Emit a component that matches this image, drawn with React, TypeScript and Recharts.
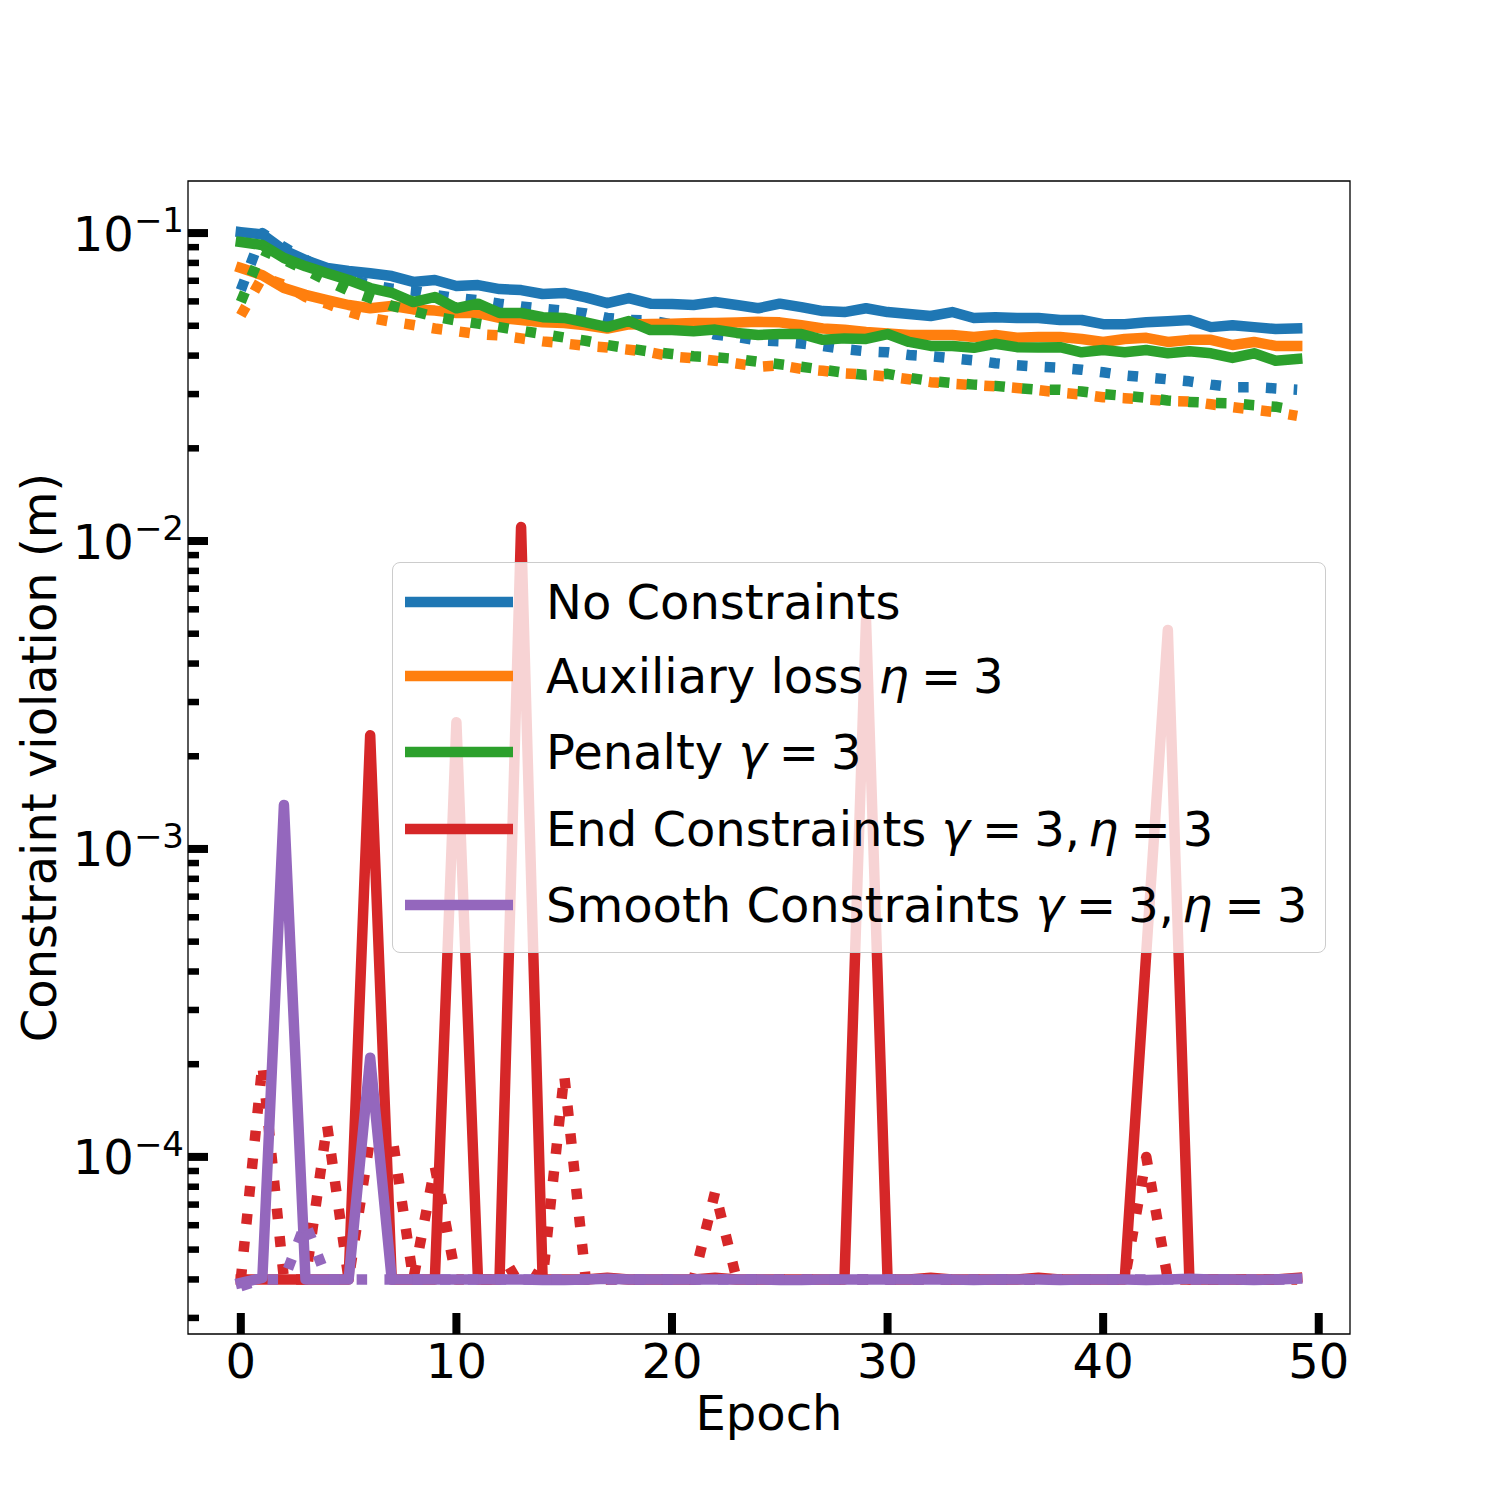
import { LineChart, Line, XAxis, YAxis, Legend, ReferenceArea } from "recharts";

// values (log scale, metres)
const NO_CONSTRAINTS_TRAIN = [
  0.1007, 0.099, 0.088, 0.0817, 0.077, 0.0753, 0.074, 0.0725, 0.0694, 0.0704,
  0.0673, 0.0678, 0.0658, 0.0653, 0.0634, 0.0639, 0.0618, 0.0592, 0.0615, 0.059,
  0.0588, 0.0584, 0.0597, 0.0584, 0.057, 0.059, 0.0575, 0.0558, 0.0554, 0.057,
  0.0554, 0.0546, 0.0538, 0.0554, 0.053, 0.0533, 0.053, 0.053, 0.0522, 0.0522,
  0.0506, 0.0506, 0.0513, 0.0517, 0.0522, 0.0495, 0.0502, 0.0495, 0.0488, 0.049,
];
const NO_CONSTRAINTS_VAL = [
  0.0653, 0.1, 0.09, 0.082, 0.075, 0.071, 0.068, 0.066, 0.065, 0.063,
  0.0615, 0.0605, 0.059, 0.0578, 0.0568, 0.056, 0.0548, 0.053, 0.0522, 0.052,
  0.0505, 0.049, 0.0468, 0.046, 0.0448, 0.0445, 0.0438, 0.043, 0.042, 0.0413,
  0.041, 0.0402, 0.0398, 0.0392, 0.0386, 0.0378, 0.0372, 0.0368, 0.0365, 0.036,
  0.0353, 0.0345, 0.034, 0.0335, 0.033, 0.0322, 0.0316, 0.0316, 0.0313, 0.031,
];
const AUX_TRAIN = [
  0.077, 0.073, 0.0663, 0.063, 0.0606, 0.0584, 0.057, 0.058, 0.0565, 0.056,
  0.055, 0.055, 0.053, 0.0522, 0.0513, 0.051, 0.0502, 0.049, 0.0505, 0.0507,
  0.0508, 0.051, 0.051, 0.0512, 0.0515, 0.0513, 0.0502, 0.049, 0.0485, 0.0477,
  0.0472, 0.0467, 0.0467, 0.0467, 0.046, 0.0467, 0.0457, 0.046, 0.046, 0.0453,
  0.0443, 0.0453, 0.0457, 0.0443, 0.045, 0.045, 0.0433, 0.0443, 0.043, 0.043,
];
const AUX_VAL = [
  0.054, 0.072, 0.068, 0.062, 0.059, 0.0555, 0.053, 0.0515, 0.0503, 0.049,
  0.048, 0.047, 0.0465, 0.0455, 0.0445, 0.0438, 0.043, 0.0425, 0.0418, 0.041,
  0.0397, 0.0392, 0.0385, 0.0377, 0.0368, 0.0372, 0.0362, 0.0357, 0.035, 0.0347,
  0.0342, 0.0335, 0.0328, 0.0324, 0.0321, 0.0318, 0.0314, 0.0309, 0.0303, 0.0299,
  0.0293, 0.0291, 0.0288, 0.0285, 0.0284, 0.0278, 0.0272, 0.0267, 0.0262, 0.0255,
];
const PENALTY_TRAIN = [
  0.0935, 0.0915, 0.083, 0.078, 0.074, 0.0704, 0.0663, 0.064, 0.0597, 0.062,
  0.057, 0.059, 0.055, 0.055, 0.0533, 0.053, 0.0513, 0.0495, 0.0518, 0.0484,
  0.0484, 0.048, 0.0486, 0.0474, 0.0467, 0.047, 0.047, 0.045, 0.0455, 0.0453,
  0.047, 0.0443, 0.043, 0.043, 0.0424, 0.0437, 0.0426, 0.0425, 0.0426, 0.041,
  0.0417, 0.041, 0.0417, 0.0407, 0.0413, 0.0407, 0.0393, 0.0407, 0.0385, 0.039,
];
const PENALTY_VAL = [
  0.0597, 0.088, 0.082, 0.076, 0.07, 0.065, 0.0615, 0.058, 0.0558, 0.0535,
  0.052, 0.0508, 0.0495, 0.0482, 0.047, 0.0458, 0.0447, 0.0433, 0.0422, 0.0412,
  0.0405, 0.0398, 0.0395, 0.039, 0.0382, 0.0375, 0.0368, 0.036, 0.0352, 0.0346,
  0.0349, 0.0339, 0.0331, 0.0326, 0.0322, 0.0319, 0.0314, 0.031, 0.031, 0.0306,
  0.03, 0.0296, 0.0292, 0.0286, 0.0283, 0.0281, 0.028, 0.0276, 0.0273, 0.0265,
];
const END_TRAIN = [
  4.0e-5, 4.0e-5, 4.0e-5, 4.0e-5, 4.0e-5, 4.0e-5, 2.34e-3, 4.0e-5, 4.0e-5, 4.0e-5,
  2.58e-3, 4.0e-5, 4.0e-5, 1.11e-2, 4.0e-5, 4.0e-5, 4.0e-5, 4.05e-5, 4.0e-5, 4.0e-5,
  4.0e-5, 4.0e-5, 4.05e-5, 4.0e-5, 4.0e-5, 4.0e-5, 4.0e-5, 4.0e-5, 4.0e-5, 5.55e-3,
  4.0e-5, 4.0e-5, 4.05e-5, 4.0e-5, 4.0e-5, 4.0e-5, 4.0e-5, 4.05e-5, 4.0e-5, 4.0e-5,
  4.0e-5, 4.0e-5, 4.6e-4, 5.14e-3, 4.0e-5, 4.0e-5, 4.0e-5, 4.0e-5, 4.0e-5, 4.05e-5,
];
const END_VAL = [
  4.0e-5, 2.0e-4, 4.0e-5, 4.0e-5, 1.27e-4, 4.0e-5, 1.15e-4, 1.2e-4, 4.0e-5, 9.3e-5,
  4.0e-5, 4.0e-5, 4.0e-5, 4.4e-5, 4.0e-5, 1.85e-4, 4.0e-5, 4.0e-5, 4.0e-5, 4.0e-5,
  4.0e-5, 4.0e-5, 7.7e-5, 4.0e-5, 4.0e-5, 4.0e-5, 4.0e-5, 4.0e-5, 4.0e-5, 4.0e-5,
  4.0e-5, 4.0e-5, 4.0e-5, 4.0e-5, 4.0e-5, 4.0e-5, 4.0e-5, 4.0e-5, 4.0e-5, 4.0e-5,
  4.0e-5, 4.0e-5, 1.0e-4, 4.0e-5, 4.0e-5, 4.0e-5, 4.0e-5, 4.0e-5, 4.0e-5, 4.0e-5,
];
const SMOOTH_TRAIN = [
  3.9e-5, 4.05e-5, 1.39e-3, 4.0e-5, 4.0e-5, 4.0e-5, 2.1e-4, 4.0e-5, 4.0e-5, 4.0e-5,
  4.0e-5, 4.0e-5, 4.0e-5, 4.0e-5, 3.98e-5, 3.98e-5, 4.0e-5, 4.02e-5, 4.0e-5, 4.0e-5,
  4.0e-5, 4.0e-5, 4.0e-5, 4.0e-5, 4.0e-5, 3.98e-5, 3.98e-5, 4.0e-5, 4.0e-5, 4.0e-5,
  4.0e-5, 4.0e-5, 4.0e-5, 4.0e-5, 3.98e-5, 4.0e-5, 4.0e-5, 4.0e-5, 3.98e-5, 4.0e-5,
  4.0e-5, 4.0e-5, 3.98e-5, 4.0e-5, 4.02e-5, 4.0e-5, 4.0e-5, 3.98e-5, 4.0e-5, 4.02e-5,
];
const SMOOTH_VAL = [
  3.8e-5, 4.0e-5, 4.0e-5, 6.1e-5, 4.0e-5, 4.0e-5, 4.0e-5, 4.0e-5, 4.0e-5, 4.0e-5,
  4.0e-5, 4.0e-5, 4.0e-5, 4.0e-5, 4.0e-5, 4.0e-5, 4.0e-5, 4.0e-5, 4.0e-5, 4.0e-5,
  4.0e-5, 4.0e-5, 4.0e-5, 4.0e-5, 4.0e-5, 4.0e-5, 4.0e-5, 4.0e-5, 4.0e-5, 4.0e-5,
  4.0e-5, 4.0e-5, 4.0e-5, 4.0e-5, 4.0e-5, 4.0e-5, 4.0e-5, 4.0e-5, 4.0e-5, 4.0e-5,
  4.0e-5, 4.0e-5, 4.0e-5, 4.0e-5, 4.0e-5, 4.0e-5, 4.0e-5, 4.0e-5, 4.0e-5, 4.0e-5,
];

const EPOCHS = NO_CONSTRAINTS_TRAIN.map((_, i) => i);

const X_TICKS = [0, 10, 20, 30, 40, 50];
const Y_MAJOR = [1e-4, 1e-3, 1e-2, 1e-1];
const Y_MINOR = [1e-5, 1e-4, 1e-3, 1e-2]
  .flatMap((d) => [2, 3, 4, 5, 6, 7, 8, 9].map((m) => m * d));

const X_DOMAIN: [number, number] = [-2.45, 51.45];
const Y_DOMAIN: [number, number] = [2.66e-5, 0.1476];

const BLUE = "#1f77b4";
const ORANGE = "#ff7f0e";
const GREEN = "#2ca02c";
const RED = "#d62728";
const PURPLE = "#9467bd";

const FONT = "DejaVu Sans";
const LW = 10.5;
const DOTTED = "10.5 17.3";

const data = EPOCHS.map((epoch, i) => ({
  epoch,
  noTrain: NO_CONSTRAINTS_TRAIN[i],
  noVal: NO_CONSTRAINTS_VAL[i],
  auxTrain: AUX_TRAIN[i],
  auxVal: AUX_VAL[i],
  penTrain: PENALTY_TRAIN[i],
  penVal: PENALTY_VAL[i],
  endTrain: END_TRAIN[i],
  endVal: END_VAL[i],
  smoothTrain: SMOOTH_TRAIN[i],
  smoothVal: SMOOTH_VAL[i],
}));

const SERIES = [
  { key: "noTrain", color: BLUE, dotted: false },
  { key: "noVal", color: BLUE, dotted: true },
  { key: "auxTrain", color: ORANGE, dotted: false },
  { key: "auxVal", color: ORANGE, dotted: true },
  { key: "penTrain", color: GREEN, dotted: false },
  { key: "penVal", color: GREEN, dotted: true },
  { key: "endTrain", color: RED, dotted: false },
  { key: "endVal", color: RED, dotted: true },
  { key: "smoothTrain", color: PURPLE, dotted: false },
  { key: "smoothVal", color: PURPLE, dotted: true },
];

const isMajor = (v: number) => Y_MAJOR.some((m) => Math.abs(v / m - 1) < 1e-6);

const YTick = (props: any) => {
  const { x, y, payload } = props;
  const v = payload.value as number;
  const major = isMajor(v);
  const len = major ? 20 : 11;
  const h = major ? 8 : 6.5;
  return (
    <g>
      <rect x={x} y={y - h / 2} width={len} height={h} fill="#000" />
      {major && (
        <text x={x - 4} y={y + 17.5} textAnchor="end" fontFamily={FONT} fontSize={48} fill="#000">
          <tspan>10</tspan>
          <tspan dy={-18.4} fontSize={34}>{"\u2212" + Math.abs(Math.round(Math.log10(v)))}</tspan>
        </text>
      )}
    </g>
  );
};

const XTick = (props: any) => {
  const { x, y, payload } = props;
  return (
    <g>
      <rect x={x - 4} y={y - 21} width={8} height={21} fill="#000" />
      <text x={x} y={y + 43.5} textAnchor="middle" fontFamily={FONT} fontSize={48} fill="#000">
        {payload.value}
      </text>
    </g>
  );
};

// mathtext-like "sym = 3" with tighter spacing around the relation
const Eq = ({ sym, lead = 0 }: { sym: string; lead?: number }) => (
  <>
    <tspan dx={lead} fontStyle="italic">{sym}</tspan>
    <tspan dx={12}>=</tspan>
    <tspan dx={12}>3</tspan>
  </>
);

const LEGEND_ROWS = [
  { color: BLUE, label: <tspan>No Constraints</tspan> },
  {
    color: ORANGE,
    label: (
      <>
        <tspan>Auxiliary loss </tspan>
        <Eq sym="η" />
      </>
    ),
  },
  {
    color: GREEN,
    label: (
      <>
        <tspan>Penalty </tspan>
        <Eq sym="γ" />
      </>
    ),
  },
  {
    color: RED,
    label: (
      <>
        <tspan>End Constraints </tspan>
        <Eq sym="γ" />
        <tspan>,</tspan>
        <Eq sym="η" lead={8} />
      </>
    ),
  },
  {
    color: PURPLE,
    label: (
      <>
        <tspan>Smooth Constraints </tspan>
        <Eq sym="γ" />
        <tspan>,</tspan>
        <Eq sym="η" lead={8} />
      </>
    ),
  },
];
const ROW_CENTERS = [40, 114, 190, 267, 343];

const LegendBox = () => (
  <div
    style={{
      position: "relative",
      boxSizing: "border-box",
      width: 934,
      height: 391,
      border: "1.5px solid #cccccc",
      borderRadius: 8,
      background: "rgba(255,255,255,0.8)",
    }}
  >
    <svg width={934} height={391} style={{ position: "absolute", left: -1.5, top: -1.5, overflow: "visible" }}>
      {LEGEND_ROWS.map((row, i) => (
        <g key={i}>
          <rect x={13} y={ROW_CENTERS[i] - LW / 2} width={108} height={LW} fill={row.color} />
          <text x={154} y={ROW_CENTERS[i] + 17} fontFamily={FONT} fontSize={48} fill="#000">
            {row.label}
          </text>
        </g>
      ))}
    </svg>
  </div>
);

export default function App() {
  return (
    <div style={{ position: "absolute", left: 0, top: 0, background: "#fff" }}>
      <LineChart width={1500} height={1500} data={data} margin={{ top: 181, right: 150, bottom: 0, left: 0 }}>
        <XAxis
          dataKey="epoch"
          type="number"
          domain={X_DOMAIN}
          allowDataOverflow
          ticks={X_TICKS}
          interval={0}
          height={166}
          tickSize={0}
          tickMargin={0}
          tickLine={false}
          axisLine={false}
          tick={XTick}
          label={{
            content: () => (
              <text x={769} y={1430} textAnchor="middle" fontFamily={FONT} fontSize={48} fill="#000">
                Epoch
              </text>
            ),
          }}
        />
        <YAxis
          type="number"
          scale="log"
          domain={Y_DOMAIN}
          allowDataOverflow
          ticks={[...Y_MINOR.filter((v) => v > Y_DOMAIN[0] && v < Y_DOMAIN[1]), ...Y_MAJOR]}
          interval={0}
          width={188}
          tickSize={0}
          tickMargin={0}
          tickLine={false}
          axisLine={false}
          tick={YTick}
          label={{
            content: () => (
              <text
                x={56}
                y={757.5}
                textAnchor="middle"
                transform="rotate(-90 56 757.5)"
                fontFamily={FONT}
                fontSize={48}
                fill="#000"
              >
                Constraint violation (m)
              </text>
            ),
          }}
        />
        <ReferenceArea
          x1={X_DOMAIN[0]}
          x2={X_DOMAIN[1]}
          y1={Y_DOMAIN[0]}
          y2={Y_DOMAIN[1]}
          fill="none"
          stroke="#000"
          strokeWidth={1.3}
          ifOverflow="visible"
        />
        {SERIES.map((s) => (
          <Line
            key={s.key}
            type="linear"
            dataKey={s.key}
            stroke={s.color}
            strokeWidth={LW}
            strokeDasharray={s.dotted ? DOTTED : undefined}
            strokeLinecap={s.dotted ? "butt" : "square"}
            strokeLinejoin="round"
            dot={false}
            activeDot={false}
            isAnimationActive={false}
          />
        ))}
        <Legend
          layout="vertical"
          align="center"
          verticalAlign="middle"
          wrapperStyle={{ left: 392, top: 562, width: 934, height: 391 }}
          content={() => <LegendBox />}
        />
      </LineChart>
    </div>
  );
}
